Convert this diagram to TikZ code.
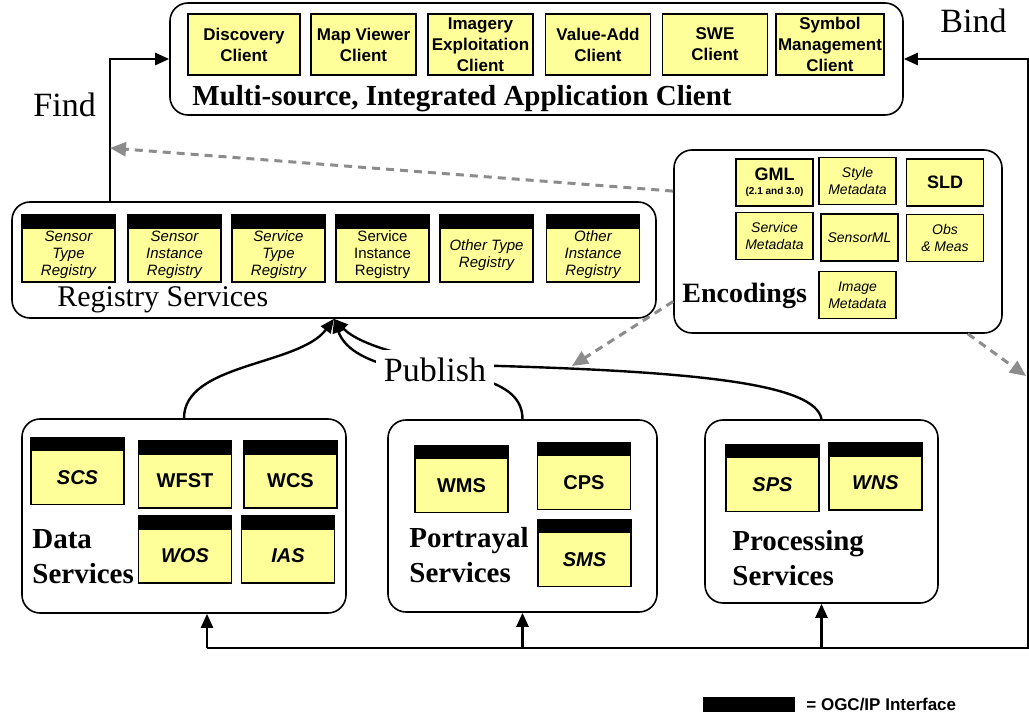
\documentclass[tikz,border=0pt]{standalone}
\usepackage{fontspec}
\setmainfont{Liberation Serif}
\setsansfont{Liberation Sans}
\usetikzlibrary{arrows.meta}
\definecolor{boxyellow}{HTML}{FFFF99}
\definecolor{dashgray}{HTML}{8C8C8C}
\tikzset{
  group/.style 2 args={draw, line width=0.8pt, rounded corners=9pt, minimum width=#1, minimum height=#2},
  ybox/.style={draw, fill=boxyellow, line width=0.6pt, inner sep=1pt, align=center,
    font=\sffamily\bfseries\fontsize{8.5}{10.5}\selectfont},
  client/.style={ybox, minimum width=52.5pt, minimum height=30.5pt},
  hdr/.style={draw, fill=black, line width=0.6pt, inner sep=0pt, minimum height=6pt},
  iface/.style 2 args={ybox, minimum width=#1, minimum height=#2, label={[hdr, minimum width=#1]north:{}}},
  reg/.style={iface={46.5pt}{27pt}, font=\sffamily\itshape\fontsize{7.5}{8.5}\selectfont},
  svc/.style={iface={46.5pt}{27pt}, font=\sffamily\bfseries\fontsize{10}{12}\selectfont},
  enc/.style={ybox, minimum width=38.5pt, minimum height=23.5pt, font=\sffamily\itshape\fontsize{7}{8.5}\selectfont},
  title/.style={anchor=base west, inner sep=0pt, font=\bfseries\fontsize{14.5}{17}\selectfont},
  grouplabel/.style={anchor=north west, inner sep=0pt, align=left, font=\bfseries\fontsize{14.5}{17.5}\selectfont},
  bigword/.style={anchor=base west, inner sep=0pt, font=\fontsize{17}{20}\selectfont},
  link/.style={line width=1.2pt, -{Triangle[length=7pt,width=6pt]}},
  hint/.style={dashgray, line width=1.5pt, dash pattern=on 4pt off 3pt, -{Triangle[length=8pt,width=7pt]}}
}

\begin{document}
\begin{tikzpicture}[x=0.5pt, y=-0.5pt]
\useasboundingbox (0,0) rectangle (1029,721);

% outer groups
\node[group={366.5pt}{56pt}] (client) at (536.5,59) {};
\node[group={322pt}{58pt}] (registry) at (334,260) {};
\node[group={164pt}{91.5pt}] (encodings) at (838,241.5) {};
\node[group={162pt}{97pt}] (data) at (184,516) {};
\node[group={134.5pt}{96pt}] (portrayal) at (522.5,516) {};
\node[group={116.5pt}{91.5pt}] (processing) at (821.5,511.5) {};

\node[title] (clienttitle) at (192,106) {Multi-source, Integrated Application Client};
\node[title, font=\fontsize{15}{18}\selectfont] (regtitle) at (57,307) {Registry Services};
\node[title, font=\bfseries\fontsize{14}{17}\selectfont] (enctitle) at (682,303) {Encodings};
\node[grouplabel] (datatitle) at (32,529) {Data\\Services};
\node[grouplabel] (portrayaltitle) at (409,527) {Portrayal\\Services};
\node[grouplabel] (processingtitle) at (732,530) {Processing\\Services};

% clients
\node[client, minimum width=56pt] (discovery) at (244,44.5) {Discovery\\Client};
\node[client] (mapviewer) at (363.5,44.5) {Map Viewer\\Client};
\node[client] (imagery) at (480.5,44.5) {Imagery\\Exploitation\\Client};
\node[client] (valueadd) at (598,44.5) {Value-Add\\Client};
\node[client] (swe) at (715,44.5) {SWE\\Client};
\node[client] (symbol) at (830,44.5) {Symbol\\Management\\Client};

% registries
\node[reg] (sensortype) at (68.5,255) {Sensor\\Type\\Registry};
\node[reg] (sensorinst) at (174.5,255) {Sensor\\Instance\\Registry};
\node[reg] (servicetype) at (278.5,255) {Service\\Type\\Registry};
\node[reg, font=\sffamily\fontsize{7.5}{8.5}\selectfont] (serviceinst) at (382.5,255) {Service\\Instance\\Registry};
\node[reg] (othertype) at (486.5,255) {Other Type\\Registry};
\node[reg] (otherinst) at (593,255) {Other\\Instance\\Registry};

% encodings
\node[enc, font=\sffamily\bfseries\fontsize{9}{8}\selectfont] (gml) at (774.5,182.5) {GML\\[-1pt]{\fontsize{5}{6}\selectfont(2.1 and 3.0)}};
\node[enc] (stylemeta) at (857.5,181) {Style\\Metadata};
\node[enc, font=\sffamily\bfseries\fontsize{9}{10}\selectfont] (sld) at (945,182.5) {SLD};
\node[enc] (servicemeta) at (774.5,236) {Service\\Metadata};
\node[enc] (sensorml) at (859.5,237.5) {SensorML};
\node[enc] (obsmeas) at (945,238) {Obs\\\& Meas};
\node[enc] (imagemeta) at (857.5,295) {Image\\Metadata};

% services
\node[svc] (scs) at (77.5,477.5) {\textit{SCS}};
\node[svc] (wfst) at (185,481) {WFST};
\node[svc] (wcs) at (290.5,481) {WCS};
\node[svc] (wos) at (185,556) {\textit{WOS}};
\node[svc] (ias) at (288,556) {\textit{IAS}};
\node[svc] (wms) at (461.5,485.5) {WMS};
\node[svc] (cps) at (584,482.5) {CPS};
\node[svc] (sms) at (584.5,559.5) {\textit{SMS}};
\node[svc] (sps) at (772.5,484.5) {\textit{SPS}};
\node[svc] (wns) at (875.5,483) {\textit{WNS}};

% find / bind
\coordinate (findx) at (110,0);
\draw[link] (registry.north -| findx) |- (client.west);
\node[bigword] (find) at (33,117) {Find};
\coordinate (busleft) at (207,648);
\coordinate (busright) at (1028,648);
\draw[link] (busleft) -- (busright) |- (client.east);
\node[bigword] (bind) at (940,33) {Bind};
\draw[link] (busleft) -- (busleft |- data.south);
\draw[link] (portrayal.south |- busleft) -- (portrayal.south);
\draw[link] (processing.south |- busleft) -- (processing.south);

% publish
\draw[link] (data.north) .. controls +(0,-55) and +(-35,47) .. (registry.south);
\draw[link] (portrayal.north) .. controls +(0,-22) and +(15,6) .. (490,382)
  .. controls +(-50,-7) and +(18,52) .. (registry.south);
\draw[link] (processing.north) .. controls +(-6,-35) and +(200,6) .. (500,366)
  .. controls +(-80,-2) and +(26,27) .. (registry.south);
\node[bigword, anchor=center, fill=white, inner sep=4pt] (publish) at (435,370) {Publish};

% encodings usage
\coordinate (findmid) at (110,148);
\draw[hint] (encodings.163) -- (findmid);
\coordinate (publishtip) at (572,366);
\draw[hint] (encodings.200) -- (publishtip);
\coordinate (bustip) at (1026,376);
\draw[hint] ([xshift=-17.5pt]encodings.south east) -- (bustip);

% legend
\node[fill=black, minimum width=46pt, minimum height=7.5pt, inner sep=0pt] (legbar) at (749,704.5) {};
\node[anchor=west, inner sep=0pt, font=\sffamily\bfseries\fontsize{8.5}{10}\selectfont] (legtext) at (806,704.5) {= OGC/IP Interface};
\end{tikzpicture}
\end{document}
